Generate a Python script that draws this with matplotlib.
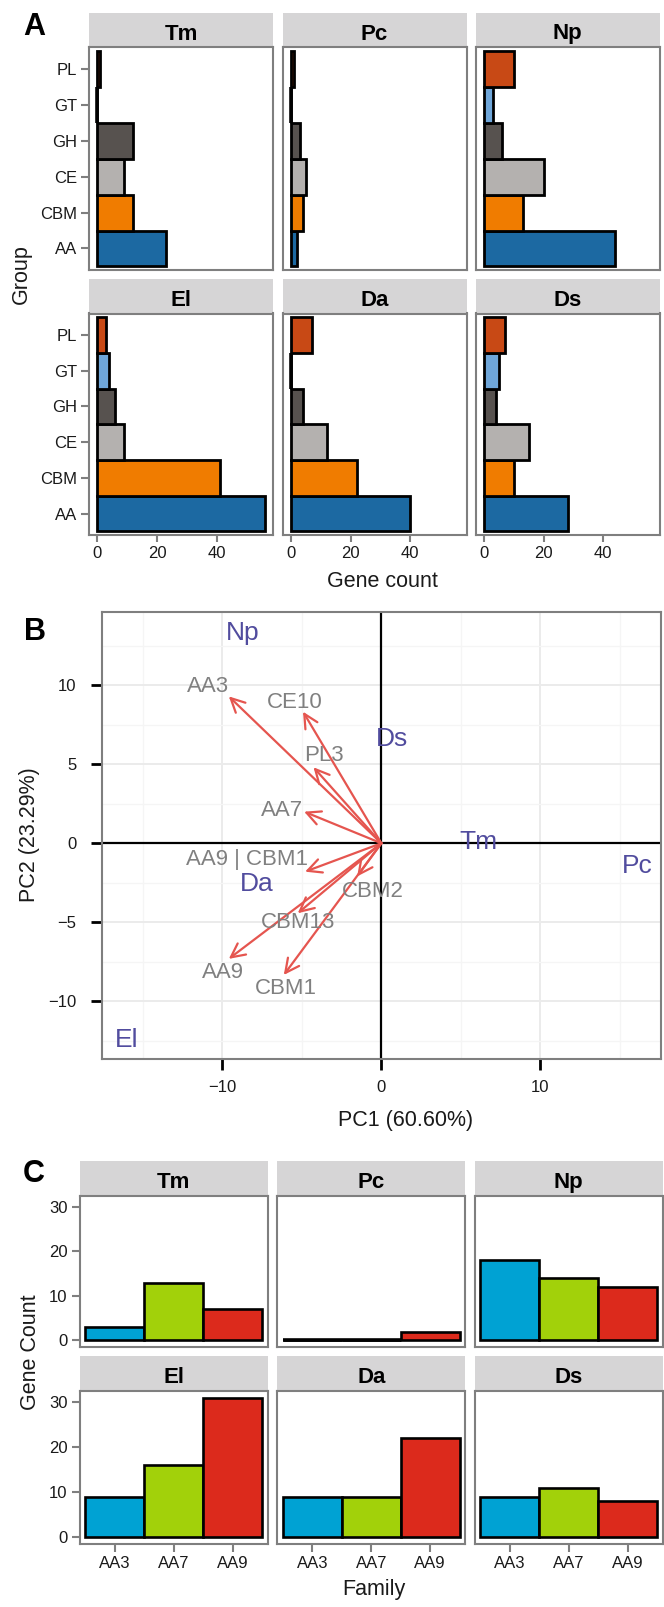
import matplotlib
matplotlib.use('Agg')
import matplotlib.pyplot as plt
from matplotlib.patches import FancyArrowPatch
import numpy as np

plt.rcParams['font.family'] = ['Liberation Sans', 'DejaVu Sans']
plt.rcParams['path.simplify'] = False

# ---------------- data ----------------
species = ['Tm', 'Pc', 'Np', 'El', 'Da', 'Ds']

# Panel A: gene counts per CAZy group (bottom to top)
groups = ['AA', 'CBM', 'CE', 'GH', 'GT', 'PL']
tm_groups = [23, 12, 9, 12, 0, 1]
pc_groups = [2, 4, 5, 3, 0, 1]
np_groups = [44, 13, 20, 6, 3, 10]
el_groups = [56, 41, 9, 6, 4, 3]
da_groups = [40, 22, 12, 4, 0, 7]
ds_groups = [28, 10, 15, 4, 5, 7]
group_ticks = [0, 20, 40]

# Panel B: PCA biplot
loading_names = ['AA3', 'CE10', 'PL3', 'AA7', 'AA9 | CBM1', 'CBM2', 'CBM13', 'AA9', 'CBM1']
loading_pc1 = [-9.6, -4.93, -4.27, -4.86, -4.8, -1.52, -5.26, -9.6, -6.14]
loading_pc2 = [9.3, 8.33, 4.81, 2.0, -1.8, -2.1, -4.43, -7.32, -8.34]
label_pc1 = [-10.88, -5.47, -3.6, -6.27, -8.46, -0.54, -5.26, -10.0, -6.0]
label_pc2 = [9.91, 8.92, 5.53, 2.06, -1.01, -3.06, -5.02, -8.19, -9.18]
score_names = ['Np', 'Ds', 'Tm', 'Pc', 'Da', 'El']
score_pc1 = [-8.75, 0.67, 6.08, 16.08, -7.82, -16.0]
score_pc2 = [13.33, 6.6, 0.06, -1.44, -2.58, -12.45]
pc1_ticks = [-10, 0, 10]
pc2_ticks = [-10, -5, 0, 5, 10]

# Panel C: AA family counts
families = ['AA3', 'AA7', 'AA9']
tm_aa = [3, 13, 7]
pc_aa = [0, 0, 2]
np_aa = [18, 14, 12]
el_aa = [9, 16, 31]
da_aa = [9, 9, 22]
ds_aa = [9, 11, 8]
aa_ticks = [0, 10, 20, 30]

group_data = [tm_groups, pc_groups, np_groups, el_groups, da_groups, ds_groups]
aa_data = [tm_aa, pc_aa, np_aa, el_aa, da_aa, ds_aa]

# ---------------- styles ----------------
group_colors = ['#1c69a2', '#f07c00', '#b4b1af', '#57524f', '#6fa6d9', '#c84915']
aa_colors = ['#00a2d3', '#a2d10a', '#dc2a1c']
strip_col = '#d6d5d6'
border_col = '#7f7f7f'
tick_col = '#7f7f7f'
txt_col = '#1a1a1a'
TICK_FS = 12
TITLE_FS = 15.5
STRIP_FS = 16

W, H = 664, 1607
fig = plt.figure(figsize=(W / 100, H / 100), dpi=100)


def add_ax(x0, y0, x1, y1):
    return fig.add_axes([x0 / W, 1 - y1 / H, (x1 - x0) / W, (y1 - y0) / H])


def strip(x0, y0, x1, y1, label):
    a = add_ax(x0, y0, x1, y1)
    a.set_facecolor(strip_col)
    for s in a.spines.values():
        s.set_visible(False)
    a.set_xticks([])
    a.set_yticks([])
    a.set_xlim(0, 1)
    a.set_ylim(y1, y0)
    a.text(0.5, y1 - 8.0, label, ha='center', va='baseline',
           fontsize=STRIP_FS, fontweight='bold', color='black')


def style_panel(a):
    for s in a.spines.values():
        s.set_color(border_col)
        s.set_linewidth(1.5)
        s.set_zorder(5)
    a.set_facecolor('white')


def px2fig(x, y):
    return x / W, 1 - y / H


# ---------------- Panel A ----------------
cols_A = [(89, 273), (282.5, 466.5), (475.5, 659.5)]
rows_A = [(13, 47.5, 270), (279, 313.5, 535)]
ypos = np.arange(1, len(groups) + 1)
for i, sp in enumerate(species):
    r, c = divmod(i, 3)
    x0, x1 = cols_A[c]
    s0, s1, p1 = rows_A[r]
    strip(x0, s0, x1, s1, sp)
    a = add_ax(x0, s1, x1, p1)
    style_panel(a)
    vals = np.array(group_data[i])
    a.barh(ypos, vals, height=1.0, color=group_colors,
           edgecolor='black', linewidth=2.0, zorder=2)
    zero = vals == 0
    if zero.any():
        # zero-count bars collapse to their outline, as in the original
        a.vlines(vals[zero], ypos[zero] - 0.5, ypos[zero] + 0.5,
                 color='black', linewidth=2.6, zorder=3)
    a.set_xlim(-2.8, 58.8)
    a.set_ylim(0.4, 6.6)
    a.tick_params(colors=tick_col, labelcolor=txt_col, labelsize=TICK_FS,
                  length=6, width=1.5, pad=2.5)
    if c == 0:
        a.set_yticks(ypos)
        a.set_yticklabels(groups)
    else:
        a.set_yticks([])
    if r == 1:
        a.set_xticks(group_ticks)
        a.set_xticklabels([str(t) for t in group_ticks])
        a.tick_params(axis='x', length=5, pad=3)
    else:
        a.set_xticks([])

fig.text(*px2fig(34.5, 35), 'A', fontsize=22, fontweight='bold', ha='center', va='baseline')
fig.text(*px2fig(382, 587), 'Gene count', fontsize=TITLE_FS, ha='center', va='baseline', color=txt_col)
fig.text(*px2fig(21, 274), 'Group', fontsize=TITLE_FS, ha='center', va='center', rotation=90, color=txt_col)

# ---------------- Panel B ----------------
b = add_ax(101.7, 612.2, 661, 1059.3)
style_panel(b)
b.set_xlim(-17.6, 17.6)
b.set_ylim(-13.68, 14.63)
b.set_xticks(pc1_ticks)
b.set_xticklabels([str(t).replace('-', '\u2212') for t in pc1_ticks])
b.set_yticks(pc2_ticks)
b.set_yticklabels([str(t).replace('-', '\u2212') for t in pc2_ticks])
b.set_xticks([-15, -5, 5, 15], minor=True)
b.set_yticks([-12.5, -7.5, -2.5, 2.5, 7.5, 12.5], minor=True)
b.grid(which='major', color='#ebebeb', linewidth=1.4, zorder=0)
b.grid(which='minor', color='#f5f5f5', linewidth=1.0, zorder=0)
b.set_axisbelow(True)
b.tick_params(which='major', colors='black', labelcolor=txt_col, labelsize=TICK_FS,
              length=8, width=2.0)
b.tick_params(axis='y', pad=10)
b.tick_params(axis='x', pad=7)
b.tick_params(which='minor', length=0)
b.axhline(0, color='black', linewidth=1.6, zorder=1)
b.axvline(0, color='black', linewidth=1.6, zorder=1)

for name, x, y, lx, ly in zip(loading_names, loading_pc1, loading_pc2, label_pc1, label_pc2):
    arr = FancyArrowPatch((0, 0), (x, y), arrowstyle='->,head_length=0.5,head_width=0.25',
                          mutation_scale=20, color='#e5554f', linewidth=1.6,
                          shrinkA=0, shrinkB=0, zorder=3)
    b.add_patch(arr)
    b.text(lx, ly, name, color='#808080', fontsize=16, ha='center', va='center', zorder=4)

for name, x, y in zip(score_names, score_pc1, score_pc2):
    b.text(x, y, name, color='#514c9e', fontsize=19, ha='center', va='center', zorder=4)

fig.text(*px2fig(34.5, 640), 'B', fontsize=22, fontweight='bold', ha='center', va='baseline')
fig.text(*px2fig(406, 1126), 'PC1 (60.60%)', fontsize=TITLE_FS, ha='center', va='baseline', color=txt_col)
fig.text(*px2fig(30, 835), 'PC2 (23.29%)', fontsize=TITLE_FS, ha='center', va='center', rotation=90, color=txt_col)

# ---------------- Panel C ----------------
cols_C = [(79.5, 268), (277, 465.5), (474.5, 663)]
rows_C = [(1161, 1195.7, 1347.3), (1356, 1390.7, 1544)]
xpos = np.arange(1, len(families) + 1)
for i, sp in enumerate(species):
    r, c = divmod(i, 3)
    x0, x1 = cols_C[c]
    s0, s1, p1 = rows_C[r]
    strip(x0, s0, x1, s1, sp)
    a = add_ax(x0, s1, x1, p1)
    style_panel(a)
    vals = np.array(aa_data[i])
    a.bar(xpos, vals, width=1.0, color=aa_colors,
          edgecolor='black', linewidth=1.9, zorder=2)
    zero = vals == 0
    if zero.any():
        a.hlines(vals[zero], xpos[zero] - 0.5, xpos[zero] + 0.5,
                 color='black', linewidth=2.6, zorder=3)
    a.set_xlim(0.4, 3.6)
    a.set_ylim(-1.55, 32.55)
    a.tick_params(colors=tick_col, labelcolor=txt_col, labelsize=TICK_FS,
                  length=6, width=1.5, pad=2.5)
    if c == 0:
        a.set_yticks(aa_ticks)
        a.set_yticklabels([str(t) for t in aa_ticks])
    else:
        a.set_yticks([])
    if r == 1:
        a.set_xticks(xpos)
        a.set_xticklabels(families)
        a.tick_params(axis='x', length=6, pad=3)
    else:
        a.set_xticks([])

fig.text(*px2fig(34, 1181.5), 'C', fontsize=22, fontweight='bold', ha='center', va='baseline')
fig.text(*px2fig(374, 1595), 'Family', fontsize=TITLE_FS, ha='center', va='baseline', color=txt_col)
fig.text(*px2fig(30, 1352), 'Gene Count', fontsize=TITLE_FS, ha='center', va='center', rotation=90, color=txt_col)

fig.savefig('out.png', dpi=100, facecolor='white')
